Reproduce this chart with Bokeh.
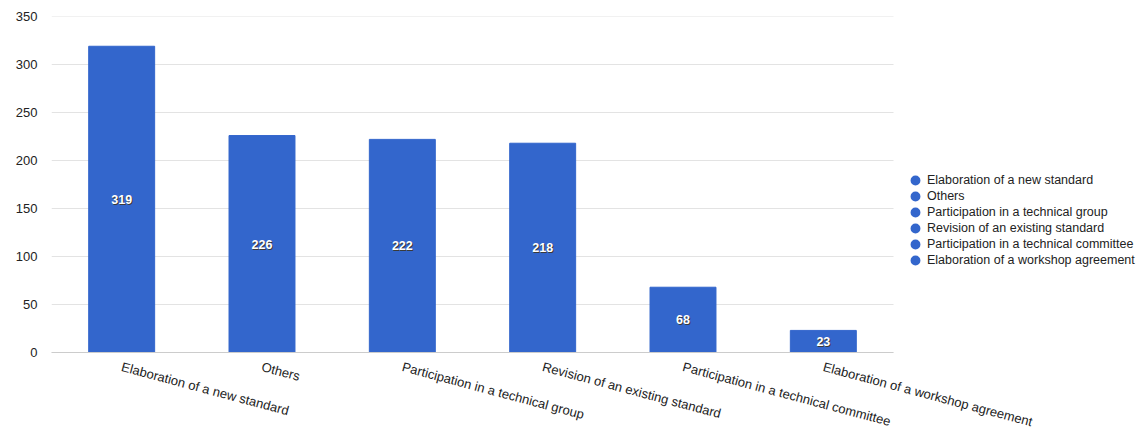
from bokeh.plotting import figure
from bokeh.models import ColumnDataSource, Legend, LegendItem, FixedTicker, Range1d
from bokeh.embed import file_html
from bokeh.resources import INLINE
from bokeh.core.properties import value

categories = [
    "Elaboration of a new standard",
    "Others",
    "Participation in a technical group",
    "Revision of an existing standard",
    "Participation in a technical committee",
    "Elaboration of a workshop agreement",
]
counts = [319, 226, 222, 218, 68, 23]
y_ticks = [0, 50, 100, 150, 200, 250, 300, 350]

BAR = "#3366CC"
FONT = "Liberation Sans"

n = len(categories)
xpos = [i + 0.5 for i in range(n)]

src = ColumnDataSource(dict(
    x=xpos,
    cat=categories,
    val=counts,
    mid=[v / 2 for v in counts],
    lbl=[str(v) for v in counts],
))

# frame extends to the right to host the legend; category slots take 842 of 1085 px
p = figure(
    x_range=Range1d(0, n * 1085 / 842), y_range=Range1d(0, 350),
    width=1136, height=439,
    output_backend="svg", toolbar_location=None,
    min_border_left=51, min_border_right=0,
    min_border_top=16, min_border_bottom=83,
)
p.outline_line_color = None
p.background_fill_color = "white"
p.border_fill_color = "white"
p.xgrid.visible = False
p.ygrid.visible = False

# horizontal gridlines across the category area only
p.segment(x0=[0] * len(y_ticks), x1=[n] * len(y_ticks), y0=y_ticks, y1=y_ticks,
          line_color="#e3e3e3", line_width=1)

p.vbar(x="x", top="val", width=0.47, source=src,
       fill_color=BAR, line_color=BAR, line_width=1)

# value labels: dark halo under white bold text
p.text(x="x", y="mid", text="lbl", source=src,
       text_color="#3a3a3a", text_font=value(FONT), text_font_size="12.5px",
       text_font_style="bold", text_align="center", text_baseline="middle",
       x_offset=1, y_offset=1)
p.text(x="x", y="mid", text="lbl", source=src,
       text_color="white", text_font=value(FONT), text_font_size="12.5px",
       text_font_style="bold", text_align="center", text_baseline="middle")

# legend swatch renderer (nothing drawn in the plot)
dots_leg = p.scatter(x=[0], y=[float("nan")], marker="circle",
                     fill_color=BAR, line_color=BAR, line_width=3.5)

items = [LegendItem(label=c, renderers=[dots_leg]) for c in categories]
legend = Legend(items=items, location=(856, 84), orientation="vertical",
                glyph_width=16, glyph_height=16, label_height=16,
                spacing=0, padding=0, margin=0, label_standoff=4,
                border_line_color=None, background_fill_alpha=0,
                label_text_font=FONT, label_text_font_size="12.5px",
                label_text_color="#222222")
p.add_layout(legend, "center")

p.yaxis.ticker = FixedTicker(ticks=y_ticks)
p.yaxis.axis_line_color = None
p.yaxis.major_tick_line_color = None
p.yaxis.minor_tick_line_color = None
p.yaxis.major_tick_in = 0
p.yaxis.major_tick_out = 0
p.yaxis.major_label_standoff = 14
p.yaxis.major_label_text_font = FONT
p.yaxis.major_label_text_font_size = "13px"
p.yaxis.major_label_text_color = "#222222"

p.xaxis.ticker = FixedTicker(ticks=xpos)
p.xaxis.major_label_overrides = {x: c for x, c in zip(xpos, categories)}
p.xaxis.bounds = (0, n)
p.xaxis.axis_line_color = "#cccccc"
p.xaxis.axis_line_width = 1
p.xaxis.major_tick_line_color = None
p.xaxis.minor_tick_line_color = None
p.xaxis.major_tick_in = 0
p.xaxis.major_tick_out = 0
p.xaxis.major_label_standoff = 14
p.xaxis.major_label_orientation = -0.26
p.xaxis.major_label_text_font = FONT
p.xaxis.major_label_text_font_size = "13px"
p.xaxis.major_label_text_color = "#222222"

open("out.html", "w").write(file_html(p, INLINE))
